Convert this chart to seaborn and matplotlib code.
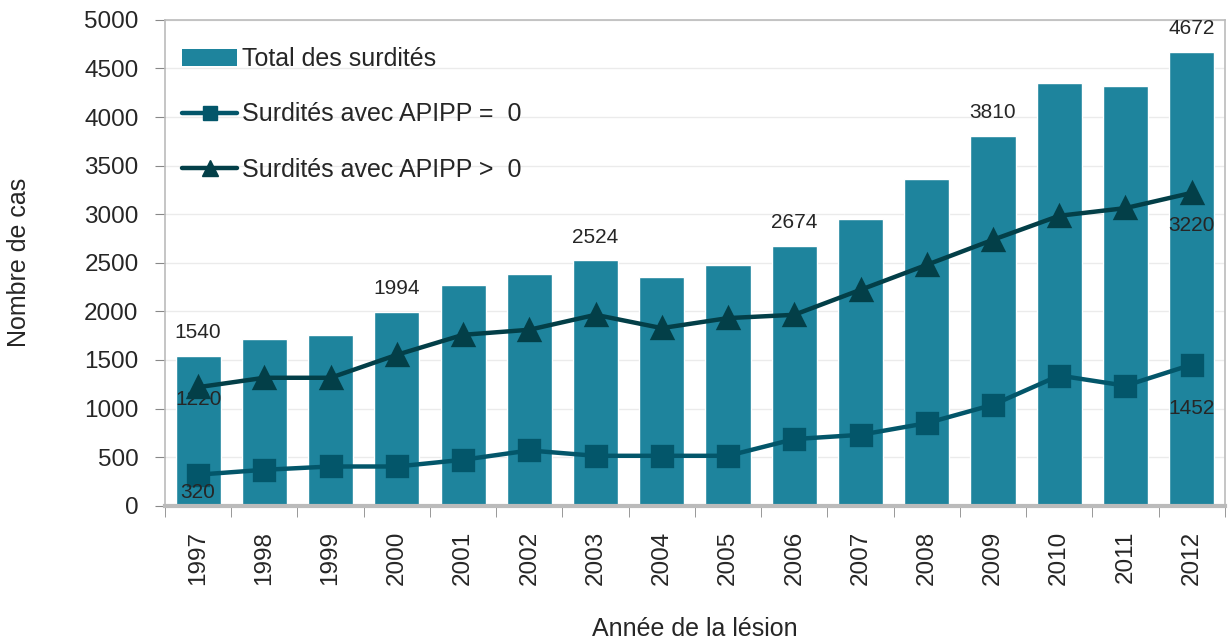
import matplotlib
matplotlib.use("Agg")
import matplotlib.pyplot as plt
import seaborn as sns
import pandas as pd
from matplotlib.lines import Line2D
from matplotlib.patches import Patch

years = ["1997", "1998", "1999", "2000", "2001", "2002", "2003", "2004",
         "2005", "2006", "2007", "2008", "2009", "2010", "2011", "2012"]
total = [1540, 1718, 1752, 1994, 2267, 2387, 2524, 2359,
         2479, 2674, 2953, 3364, 3810, 4349, 4321, 4672]
apipp_zero = [320, 370, 404, 404, 473, 569, 514, 514,
              514, 686, 730, 850, 1039, 1340, 1235, 1452]
apipp_pos = [1220, 1317, 1317, 1553, 1759, 1811, 1965, 1828,
             1931, 1965, 2222, 2479, 2737, 2984, 3063, 3220]

labels_total = {"1997": 1540, "2000": 1994, "2003": 2524, "2006": 2674, "2009": 3810, "2012": 4672}

df = pd.DataFrame({"year": years, "total": total, "zero": apipp_zero, "pos": apipp_pos})

sns.set_style("white")
plt.rcParams["font.family"] = ["Liberation Sans", "DejaVu Sans"]

c_bar = "#1e849d"
c_sq = "#03566a"
c_tri = "#033f48"

fig = plt.figure(figsize=(12.31, 6.41), dpi=100)
ax = fig.add_axes([0.134, 0.211, 0.861, 0.758])

sns.barplot(data=df, x="year", y="total", color=c_bar, width=0.68, ax=ax,
            saturation=1, zorder=2)
sns.pointplot(data=df, x="year", y="zero", color=c_sq, markers="s", markersize=14,
              linewidth=3.2, ax=ax, zorder=3)
sns.pointplot(data=df, x="year", y="pos", color=c_tri, markers="^", markersize=15,
              linewidth=3.2, ax=ax, zorder=4)

ax.set_ylim(0, 5000)
ax.set_xlim(-0.5, len(years) - 0.5)
ax.set_yticks(range(0, 5001, 500))
ax.tick_params(axis="y", labelsize=17.5, length=7, color="#888888", direction="out", left=True, pad=12)
ax.tick_params(axis="x", labelsize=17.5, labelrotation=90, length=0, pad=18)
ax.set_xticks(range(len(years)))
ax.set_xticklabels(years)
ax.set_xticks([i - 0.5 for i in range(len(years) + 1)], minor=True)
ax.tick_params(axis="x", which="minor", length=8, color="#888888", bottom=True)

ax.yaxis.grid(True, color="#ebebeb", linewidth=1, zorder=0)
ax.set_axisbelow(True)
for s in ["left", "top", "right"]:
    ax.spines[s].set_color("#bbbbbb")
    ax.spines[s].set_linewidth(1.2)
ax.spines["bottom"].set_color("#bbbbbb")
ax.spines["bottom"].set_linewidth(3)

ax.set_ylabel("Nombre de cas", fontsize=18, labelpad=38)
ax.set_xlabel("Année de la lésion", fontsize=18, labelpad=23)

fs = 15
for i, y in enumerate(years):
    if y in labels_total:
        ax.annotate(str(labels_total[y]), (i, total[i]), xytext=(0, 10),
                    textcoords="offset points", ha="center", va="bottom", fontsize=fs)
ax.annotate(str(apipp_pos[0]), (0, apipp_pos[0]), xytext=(0, -2), textcoords="offset points",
            ha="center", va="top", fontsize=fs)
ax.annotate(str(apipp_pos[-1]), (15, apipp_pos[-1]), xytext=(0, -17), textcoords="offset points",
            ha="center", va="top", fontsize=fs)
ax.annotate(str(apipp_zero[0]), (0, apipp_zero[0]), xytext=(0, -6), textcoords="offset points",
            ha="center", va="top", fontsize=fs)
ax.annotate(str(apipp_zero[-1]), (15, apipp_zero[-1]), xytext=(0, -25), textcoords="offset points",
            ha="center", va="top", fontsize=fs)

handles = [
    Patch(facecolor=c_bar, edgecolor="none"),
    Line2D([], [], color=c_sq, marker="s", markersize=10, linewidth=3.2),
    Line2D([], [], color=c_tri, marker="^", markersize=11, linewidth=3.2),
]
leg = ax.legend(handles, ["Total des surdités", "Surdités avec APIPP =  0", "Surdités avec APIPP >  0"],
                loc="upper left", bbox_to_anchor=(0.0, 0.98), frameon=False, fontsize=18,
                handlelength=2.2, handleheight=0.65, handletextpad=0.2, labelspacing=1.25,
                borderaxespad=0.4, borderpad=0.3)

fig.savefig("out.png", dpi=100)
